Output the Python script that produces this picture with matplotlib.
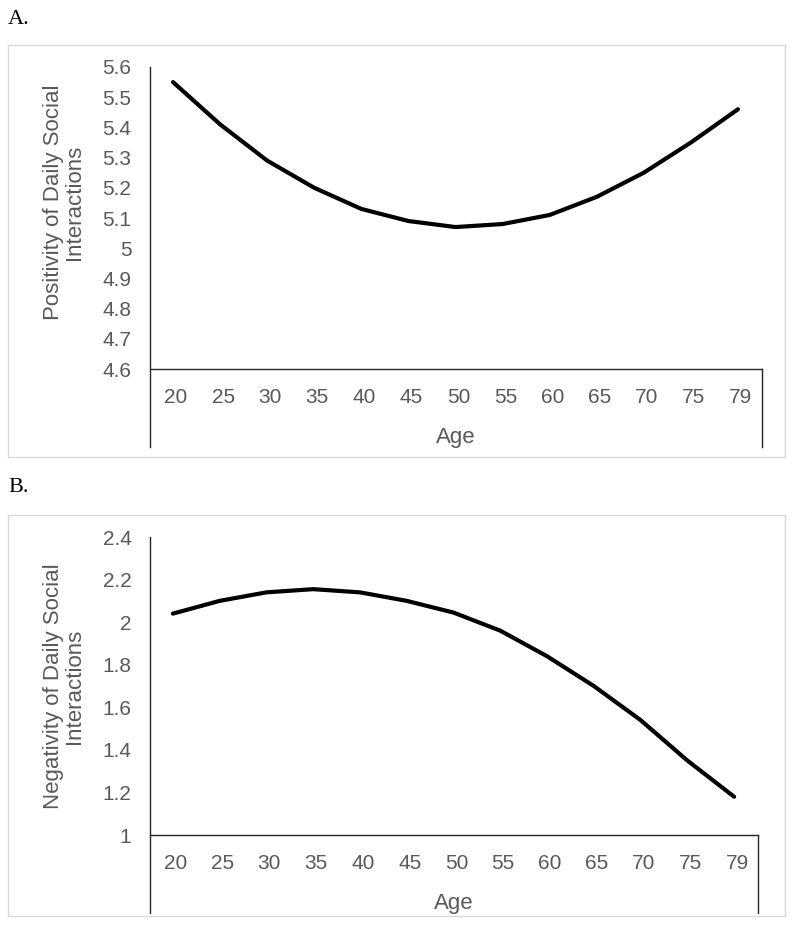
import matplotlib
matplotlib.use('Agg')
import matplotlib.pyplot as plt
from matplotlib.patches import Rectangle
from matplotlib.transforms import ScaledTranslation

# data
ages = ['20', '25', '30', '35', '40', '45', '50', '55', '60', '65', '70', '75', '79']
positivity = [5.55, 5.41, 5.29, 5.20, 5.13, 5.09, 5.07, 5.08, 5.11, 5.17, 5.25, 5.35, 5.46]
negativity = [2.04, 2.10, 2.14, 2.155, 2.14, 2.10, 2.045, 1.96, 1.84, 1.70, 1.54, 1.35, 1.18]
pos_ticks = [4.6, 4.7, 4.8, 4.9, 5.0, 5.1, 5.2, 5.3, 5.4, 5.5, 5.6]
neg_ticks = [1.0, 1.2, 1.4, 1.6, 1.8, 2.0, 2.2, 2.4]

W, H = 800, 931
GRAY = '#595959'
AXC = '#262626'

plt.rcParams['font.family'] = ['Liberation Sans', 'DejaVu Sans']

fig = plt.figure(figsize=(W / 100, H / 100), dpi=100)


def px_rect(x0, y0, x1, y1):
    # pixel box (top-left origin) -> figure fraction [l, b, w, h]
    return [x0 / W, 1 - y1 / H, (x1 - x0) / W, (y1 - y0) / H]


def panel(rect, box, letter, letter_y, values, ticks, ylabel, ybottom, fmt, label_y):
    # light frame around the chart
    bx = px_rect(*box)
    fig.patches.append(Rectangle((bx[0], bx[1]), bx[2], bx[3], transform=fig.transFigure,
                                 fill=False, edgecolor='#d9d9d9', linewidth=1))
    fig.text(8 / W, 1 - letter_y / H, letter, family='Liberation Serif', fontsize=16,
             va='center', ha='left', color='black')

    ax = fig.add_axes(px_rect(*rect))
    x = list(range(len(values)))
    ax.plot(x, values, color='black', linewidth=3, solid_capstyle='round')
    ax.set_xlim(-0.5, len(values) - 0.5)
    ax.set_ylim(ybottom, ticks[-1])
    ax.set_yticks(ticks)
    ax.set_yticklabels([fmt(t) for t in ticks])
    ax.set_xticks(x)
    ax.set_xticklabels(ages)
    ax.spines['top'].set_visible(False)
    ax.spines['bottom'].set_position(('data', ticks[0]))
    ax.spines['right'].set_bounds(ybottom, ticks[0])
    for s in ['left', 'bottom', 'right']:
        ax.spines[s].set_color(AXC)
        ax.spines[s].set_linewidth(1)
    ax.tick_params(axis='both', length=0, labelsize=15, labelcolor=GRAY)
    ax.tick_params(axis='x', pad=14)
    ax.tick_params(axis='y', pad=13)
    # category labels sit a few px right of the category centre in the original
    shift = ScaledTranslation(3 / 100, 0, fig.dpi_scale_trans)
    for lab in ax.get_xticklabels():
        lab.set_transform(lab.get_transform() + shift)
    ax.set_xlabel('Age', fontsize=16, color=GRAY, labelpad=14)
    ax.text(64 / W, 1 - label_y / H, ylabel, transform=fig.transFigure, rotation=90,
            ha='center', va='center', fontsize=16, color=GRAY, linespacing=1.0)
    return ax


def fmt_pos(t):
    return '5' if abs(t - 5) < 1e-9 else f'{t:.1f}'


def fmt_neg(t):
    s = f'{t:.1f}'
    return s[:-2] if s.endswith('.0') else s


# panel A: 302 px per unit, plot area 67..369, frame bottom at 447
panel((149.5, 67, 761.5, 447), (8, 45, 785, 457), 'A.', 20, positivity, pos_ticks,
      'Positivity of Daily Social\nInteractions', 4.6 - 78 / 302, fmt_pos, 202)

# panel B: 213 px per unit, plot area 537..835, frame bottom at 913
panel((149.5, 537, 757.5, 913), (8, 515, 785, 916), 'B.', 487, negativity, neg_ticks,
      'Negativity of Daily Social\nInteractions', 1 - 78 / 213, fmt_neg, 686)

plt.savefig('out.png', dpi=100)
